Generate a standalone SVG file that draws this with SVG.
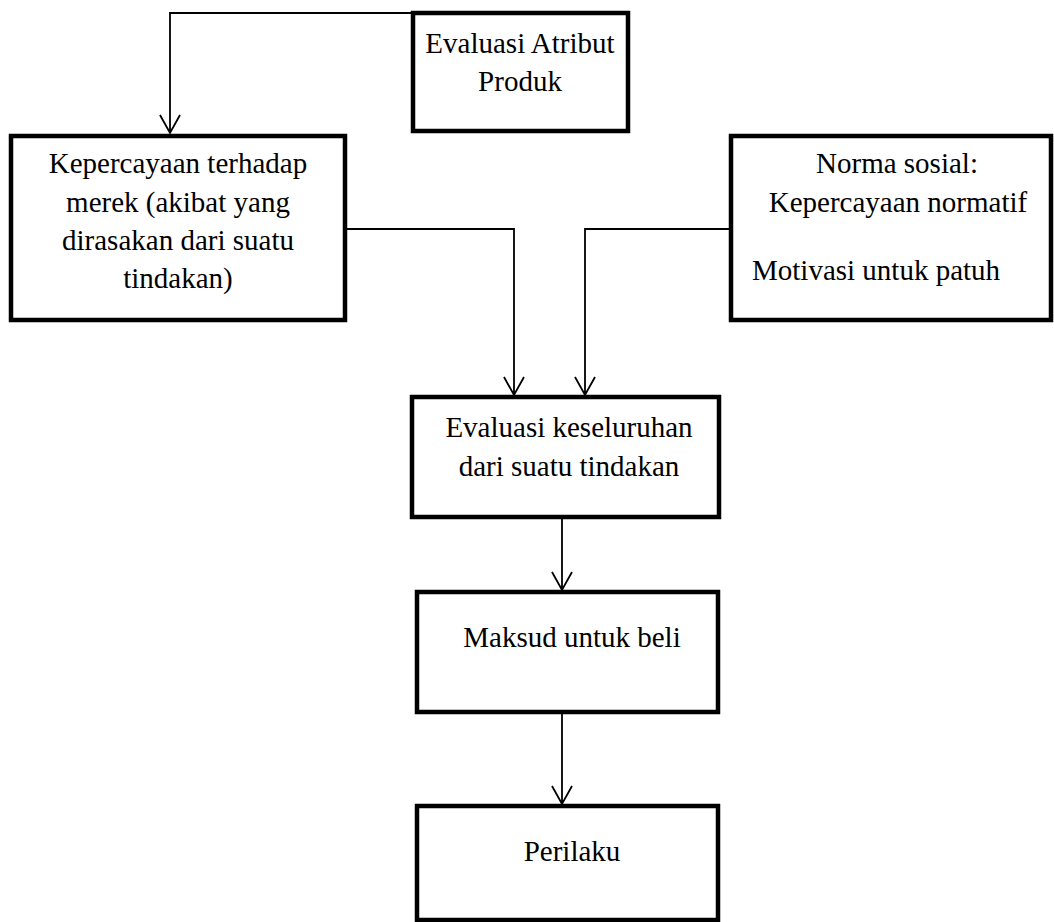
<svg xmlns="http://www.w3.org/2000/svg" width="1054" height="922" viewBox="0 0 1054 922">
<style>
.box{fill:#fff;stroke:#000;stroke-width:4.5}
.t{font-family:"Liberation Serif","Times New Roman",serif;font-size:29px;fill:#000}
.c{text-anchor:middle}
.ln{fill:none;stroke:#000;stroke-width:1.8}
</style>
<rect width="1054" height="922" fill="#fff"/>
<g id="n1"><rect class="box" x="413" y="13" width="215" height="118"/>
<text class="t c" x="520" y="53">Evaluasi Atribut</text><text class="t c" x="520" y="91">Produk</text></g>
<g id="n2"><rect class="box" x="11" y="136" width="334" height="184"/>
<text class="t c" x="178" y="173">Kepercayaan terhadap</text><text class="t c" x="178" y="212">merek (akibat yang</text><text class="t c" x="178" y="250">dirasakan dari suatu</text><text class="t c" x="178" y="288">tindakan)</text></g>
<g id="n3"><rect class="box" x="731" y="136" width="320" height="184"/>
<text class="t c" x="897" y="173">Norma sosial:</text><text class="t c" x="898" y="212">Kepercayaan normatif</text><text class="t" x="752" y="280">Motivasi untuk patuh</text></g>
<g id="n4"><rect class="box" x="412" y="397" width="307" height="120"/>
<text class="t c" x="569" y="437">Evaluasi keseluruhan</text><text class="t c" x="569" y="476">dari suatu tindakan</text></g>
<g id="n5"><rect class="box" x="417" y="592" width="301" height="120"/>
<text class="t c" x="572" y="647">Maksud untuk beli</text></g>
<g id="n6"><rect class="box" x="417" y="806" width="301" height="114"/>
<text class="t c" x="572" y="861">Perilaku</text></g>
<g id="connectors">
<path class="ln" d="M411 13 H170 V133 M160 115 L170 133 L180 115"/>
<path class="ln" d="M347 229 H514 V395 M504 377 L514 395 L524 377"/>
<path class="ln" d="M729 229 H585 V395 M575 377 L585 395 L595 377"/>
<path class="ln" d="M562 519 V590 M552 572 L562 590 L572 572"/>
<path class="ln" d="M562 714 V804 M552 786 L562 804 L572 786"/>
</g>
</svg>
